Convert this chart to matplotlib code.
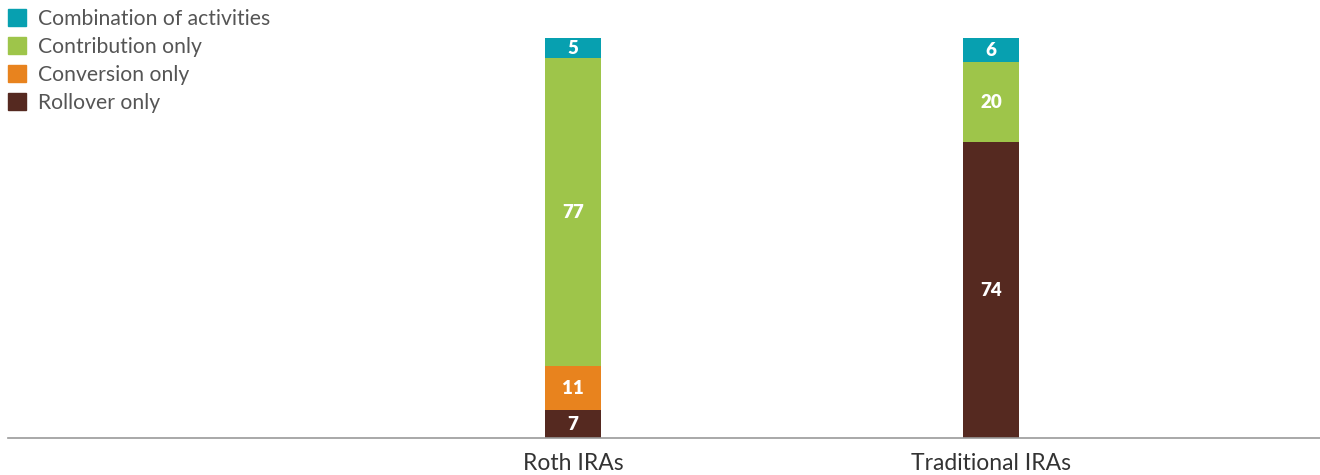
import matplotlib.pyplot as plt
from matplotlib.patches import Patch

plt.rcParams['font.family'] = ['Lato', 'DejaVu Sans']

categories = ['Roth IRAs', 'Traditional IRAs']
series = ['Rollover only', 'Conversion only', 'Contribution only', 'Combination of activities']
rollover = [7, 74]
conversion = [11, 0]
contribution = [77, 20]
combination = [5, 6]
colors = ['#552920', '#e8831e', '#9ec54a', '#07a0b0']

fig = plt.figure(figsize=(13.2, 4.75), dpi=100)
ax = fig.add_axes([8 / 1320, 1 - 438 / 475, 1 - 8 / 1320, (438 - 38) / 475])

x = [0, 1]
width = 0.134
bottom = [0, 0]
for vals, col in zip([rollover, conversion, contribution, combination], colors):
    ax.bar(x, vals, width, bottom=bottom, color=col, linewidth=0)
    for xi, v, b in zip(x, vals, bottom):
        if v > 0:
            ax.text(xi, b + v / 2, str(v), ha='center', va='center',
                    color='white', fontsize=13.5, fontweight='heavy')
    bottom = [b + v for b, v in zip(bottom, vals)]

ax.set_xlim(-1.352, 1.787)
ax.set_ylim(0, 100)
for s in ['top', 'right', 'left']:
    ax.spines[s].set_visible(False)
ax.spines['bottom'].set_color('#999999')
ax.spines['bottom'].set_linewidth(1.2)
ax.set_yticks([])
ax.set_xticks(x)
ax.set_xticklabels(categories, fontsize=16.5, color='#333333')
ax.tick_params(axis='x', length=0, pad=11)

handles = [Patch(color=c, label=l) for c, l in zip(colors[::-1], series[::-1])]
fig.legend(handles=handles, loc='upper left', bbox_to_anchor=(8 / 1320, 1 - 9 / 475),
           frameon=False, fontsize=15.2, labelcolor='#555555',
           handlelength=0.85, handleheight=0.85, handletextpad=0.55,
           labelspacing=0.38, borderaxespad=0, borderpad=0)

fig.savefig('out.png', dpi=100)
